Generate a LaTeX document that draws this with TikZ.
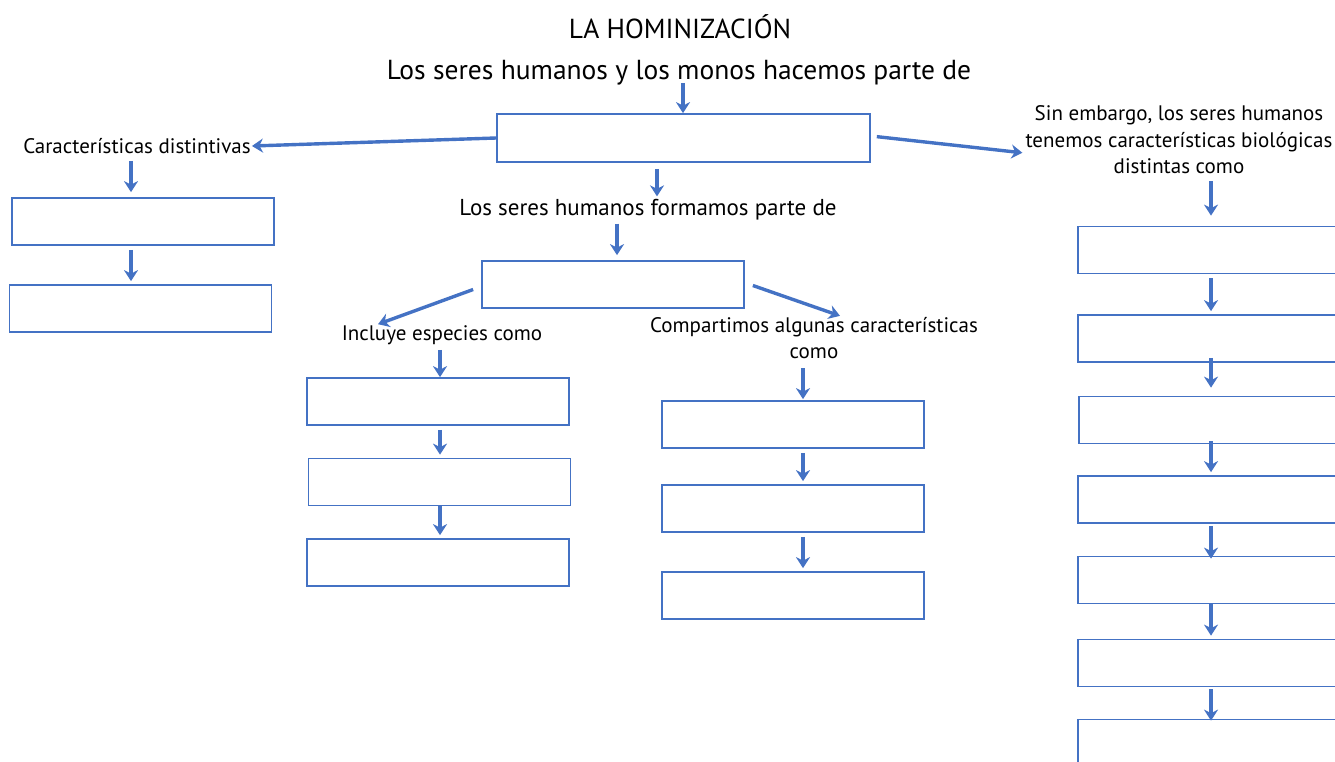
\documentclass[tikz,border=0pt]{standalone}
\usepackage{fontspec}
\setmainfont{PT Sans}
\usetikzlibrary{arrows.meta}
\definecolor{mapblue}{HTML}{4472C4}
\tikzset{
  box/.style={draw=mapblue, line width=1.7pt, minimum width=262pt,
    minimum height=47pt, inner sep=0pt},
  arr/.style={draw=mapblue, line width=3.4pt,
    -{Stealth[length=11pt,width=14pt,inset=3.5pt]},
    shorten <=4pt, shorten >=3pt},
  lbl/.style={font=\fontsize{21}{26.5}\selectfont, inner sep=1pt, align=center}
}
\begin{document}
\begin{tikzpicture}[x=1pt, y=-1pt]
  \useasboundingbox (0,0) rectangle (1335,762);
  \clip (0,0) rectangle (1335,762);
  % titles
  \node (title) at (680,27) {\fontsize{27.5}{32}\selectfont LA HOMINIZACIÓN};
  \node (sub) at (679,73) {\fontsize{27.5}{32}\selectfont Los seres humanos y los monos hacemos parte de};
  % top level
  \node[box, minimum width=373pt, minimum height=48pt] (top) at (683.5,138) {};
  \node[lbl] (dist) at (137,146) {Características distintivas};
  \node[lbl] (sin) at (1179,140) {Sin embargo, los seres humanos\\tenemos características biológicas\\distintas como};
  \node[lbl, font=\fontsize{23}{28}\selectfont] (hum) at (648,210) {Los seres humanos formamos parte de};
  \node[box] (fam) at (613,284.5) {};
  \node[lbl] (inc) at (442,335) {Incluye especies como};
  \node[lbl] (comp) at (814,338) {Compartimos algunas características\\como};
  % columns
  \node[box] (dist1) at (143,221.5) {};
  \node[box] (dist2) at (140.5,308.5) {};
  \node[box] (esp1) at (438,401.5) {};
  \node[box] (esp2) at (439.5,482) {};
  \node[box] (esp3) at (438,562.5) {};
  \node[box] (car1) at (793,424.5) {};
  \node[box] (car2) at (793,508.5) {};
  \node[box] (car3) at (793,595.5) {};
  \node[box] (bio1) at (1209,250) {};
  \node[box] (bio2) at (1209,338.5) {};
  \node[box] (bio3) at (1210,420) {};
  \node[box] (bio4) at (1209,499.5) {};
  \node[box] (bio5) at (1209,580) {};
  \node[box] (bio6) at (1209,663) {};
  \node[box] (bio7) at (1209,743) {};
  % arrow columns
  \coordinate (xa) at (683,0);
  \coordinate (xb) at (657,0);
  \coordinate (xc) at (617,0);
  \coordinate (xl) at (131,0);
  \coordinate (xm) at (440,0);
  \coordinate (xr) at (803,0);
  \coordinate (xs) at (1211,0);
  % arrows
  \draw[arr, shorten <=-6pt, shorten >=0pt] (xa |- sub.south) -- (xa |- top.north);
  \draw[arr, shorten <=0pt, shorten >=0pt] (top.west) -- (dist.east);
  \draw[arr, shorten <=6pt, shorten >=2pt] ([yshift=2pt]top.east) -- ([yshift=-13pt]sin.west);
  \draw[arr, shorten <=6pt, shorten >=2pt] (xb |- top.south) -- (xb |- hum.north);
  \draw[arr, shorten <=2pt, shorten >=5pt] (xc |- hum.south) -- (xc |- fam.north);
  \draw[arr, shorten <=0pt, shorten >=0pt] ([shift={(-8,5)}]fam.west) -- ([xshift=-64pt]inc.north);
  \draw[arr, shorten <=0pt, shorten >=0pt] ([shift={(8,1)}]fam.east) -- ([xshift=26pt]comp.north);
  \draw[arr, shorten <=6pt, shorten >=5pt] (xl |- dist.south) -- (xl |- dist1.north);
  \draw[arr] (xl |- dist1.south) -- (xl |- dist2.north);
  \draw[arr, shorten <=4pt, shorten >=0pt] (xm |- inc.south) -- (xm |- esp1.north);
  \draw[arr] (xm |- esp1.south) -- (xm |- esp2.north);
  \draw[arr, shorten <=0pt] (xm |- esp2.south) -- (xm |- esp3.north);
  \draw[arr, shorten <=8pt, shorten >=1pt] (xr |- comp.south) -- (xr |- car1.north);
  \draw[arr] (xr |- car1.south) -- (xr |- car2.north);
  \draw[arr] (xr |- car2.south) -- (xr |- car3.north);
  \draw[arr, shorten <=6pt, shorten >=10pt] (xs |- sin.south) -- (xs |- bio1.north);
  \draw[arr] (xs |- bio1.south) -- (xs |- bio2.north);
  \draw[arr, shorten <=-5pt, shorten >=8pt] (xs |- bio2.south) -- (xs |- bio3.north);
  \draw[arr, shorten <=-3pt] (xs |- bio3.south) -- (xs |- bio4.north);
  \draw[arr, shorten <=2pt, shorten >=-3pt] (xs |- bio4.south) -- (xs |- bio5.north);
  \draw[arr, shorten <=0pt] (xs |- bio5.south) -- (xs |- bio6.north);
  \draw[arr, shorten <=2pt, shorten >=-2pt] (xs |- bio6.south) -- (xs |- bio7.north);
\end{tikzpicture}
\end{document}
